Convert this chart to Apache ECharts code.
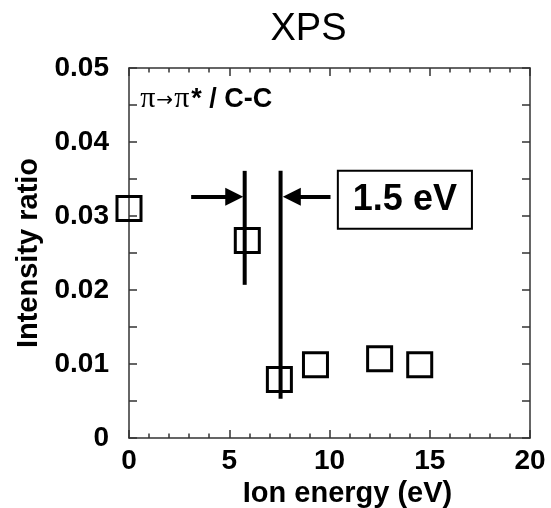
<!DOCTYPE html>
<html><head><meta charset="utf-8">
<script src="https://cdn.jsdelivr.net/npm/echarts@6/dist/echarts.min.js"></script>
<style>html,body{margin:0;padding:0;background:#fff}#c{width:551px;height:508px}</style>
</head><body><div id="c"></div>
<script>
// Data
const ionEnergy = [0, 5.9, 7.5, 9.3, 12.5, 14.5];
const intensityRatio = [0.031, 0.0267, 0.0079, 0.0099, 0.0107, 0.0099];
const lineA = [[5.77, 0.0361], [5.77, 0.0207]];
const lineB = [[7.56, 0.0361], [7.56, 0.0053]];
const arrowLeft = [[3.1, 0.0326], [5.25, 0.0326]];
const arrowRight = [[10.05, 0.0326], [8.12, 0.0326]];
const boxLabel = {x: 13.76, y: 0.0322, text: '1.5 eV'};
const noteLabel = {x: 0.56, y: 0.0458};
const xTicks = {min: 0, max: 20, interval: 5};
const yTicks = {min: 0, max: 0.05, interval: 0.01};

const F = 'Liberation Sans, Arial, Helvetica, sans-serif';
const SERIF = 'Liberation Serif, Times New Roman, serif';
const axisLineStyle = {color: '#333', width: 1.5};
const chart = echarts.init(document.getElementById('c'), null, {renderer: 'canvas'});

function xAx(pos, show) {
  return {
    type: 'value', position: pos, min: xTicks.min, max: xTicks.max, interval: xTicks.interval,
    axisLine: {show: true, onZero: false, lineStyle: axisLineStyle},
    axisTick: {show: true, inside: true, length: 8, lineStyle: axisLineStyle},
    minorTick: {show: true, splitNumber: 5, length: 4.5, lineStyle: axisLineStyle},
    splitLine: {show: false},
    axisLabel: {show: show, margin: 9, color: '#000', fontFamily: F, fontWeight: 'bold', fontSize: 28},
    name: show ? 'Ion energy (eV)' : '', nameLocation: 'middle', nameGap: 40,
    nameTextStyle: {color: '#000', fontFamily: F, fontWeight: 'bold', fontSize: 29, padding: [0, 0, 0, 36]}
  };
}
function yAx(pos, show) {
  return {
    type: 'value', position: pos, min: yTicks.min, max: yTicks.max, interval: yTicks.interval,
    axisLine: {show: true, onZero: false, lineStyle: axisLineStyle},
    axisTick: {show: true, inside: true, length: 8, lineStyle: axisLineStyle},
    minorTick: {show: true, splitNumber: 2, length: 8, lineStyle: axisLineStyle},
    splitLine: {show: false},
    axisLabel: {show: show, margin: 20, color: '#000', fontFamily: F, fontWeight: 'bold', fontSize: 28,
      formatter: v => v === 0 ? '0' : v.toFixed(2)},
    name: show ? 'Intensity ratio' : '', nameLocation: 'middle', nameGap: 86, nameRotate: 90,
    nameTextStyle: {color: '#000', fontFamily: F, fontWeight: 'bold', fontSize: 29}
  };
}

const blackLine = {color: '#000', width: 4};
chart.setOption({
  animation: false,
  backgroundColor: '#fff',
  grid: {left: 129, right: 21, top: 68, bottom: 70, containLabel: false, outerBoundsMode: 'none'},
  xAxis: [xAx('bottom', true), xAx('top', false)],
  yAxis: [yAx('left', true), yAx('right', false)],
  series: [
    {type: 'line', data: lineA, symbol: 'none', lineStyle: blackLine, z: 3},
    {type: 'line', data: lineB, symbol: 'none', lineStyle: blackLine, z: 3},
    {type: 'scatter', data: ionEnergy.map((x, i) => [x, intensityRatio[i]]), symbol: 'rect', symbolSize: 24,
      itemStyle: {color: 'rgba(0,0,0,0)', borderColor: '#000', borderWidth: 3, opacity: 1}, z: 4},
    {type: 'scatter', data: [[boxLabel.x, boxLabel.y]], symbolSize: 0, silent: true,
      itemStyle: {color: '#000', opacity: 1},
      label: {show: true, position: 'inside', formatter: boxLabel.text, color: '#000', fontFamily: F, fontWeight: 'bold', fontSize: 36,
        textBorderWidth: 0, textBorderColor: 'transparent', opacity: 1,
        borderColor: '#000', borderWidth: 2, padding: [11, 14, 9, 14], backgroundColor: '#fff'}},
    {type: 'line', data: [], markLine: {silent: true, symbol: ['none', 'triangle'], symbolSize: [18, 18],
      lineStyle: {color: '#000', width: 4, type: 'solid'}, label: {show: false},
      itemStyle: {color: '#000'},
      data: [
        [{coord: arrowLeft[0]}, {coord: arrowLeft[1]}],
        [{coord: arrowRight[0]}, {coord: arrowRight[1]}]
      ]}}
  ]
});

// Title and the in-plot note, anchored through the chart's own coordinate conversion
const p = chart.convertToPixel({xAxisIndex: 0, yAxisIndex: 0}, [noteLabel.x, noteLabel.y]);
const gx = chart.convertToPixel({xAxisIndex: 0}, 0) + (chart.convertToPixel({xAxisIndex: 0}, 20) - chart.convertToPixel({xAxisIndex: 0}, 0)) / 2;
chart.setOption({
  graphic: [
    {type: 'text', x: gx - 21, y: 30, style: {text: 'XPS', textAlign: 'center', textVerticalAlign: 'middle', font: '38px ' + F, fill: '#000'}},
    {type: 'text', x: p[0], y: p[1], style: {text: 'π', textVerticalAlign: 'middle', font: '30px ' + SERIF, fill: '#000'}},
    {type: 'text', x: p[0] + 16, y: p[1] + 2, style: {text: '→', textVerticalAlign: 'middle', font: '20px DejaVu Sans, sans-serif', fill: '#000'}},
    {type: 'text', x: p[0] + 34, y: p[1], style: {text: 'π', textVerticalAlign: 'middle', font: '30px ' + SERIF, fill: '#000'}},
    {type: 'text', x: p[0] + 51, y: p[1], style: {text: '* / C-C', textVerticalAlign: 'middle', font: 'bold 27px ' + F, fill: '#000'}}
  ]
});
</script></body></html>
